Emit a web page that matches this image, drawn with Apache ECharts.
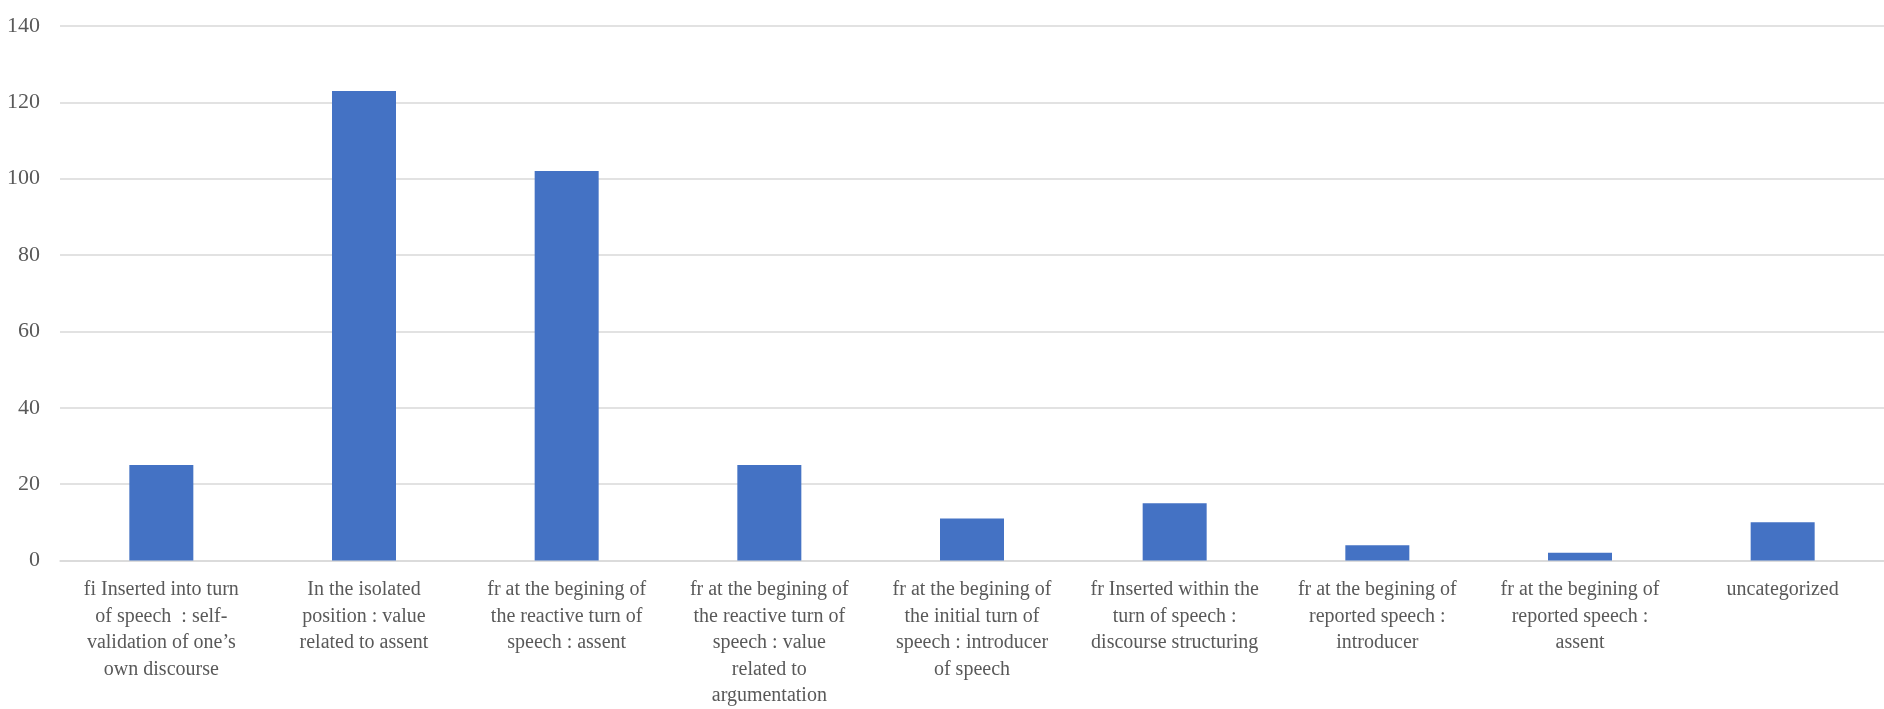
<!DOCTYPE html>
<html>
<head>
<meta charset="utf-8">
<script src="https://cdn.jsdelivr.net/npm/echarts@6/dist/echarts.min.js"></script>
<style>
  html, body { margin: 0; padding: 0; background: #ffffff; }
  #chart { width: 1884px; height: 709px; }
</style>
</head>
<body>
<div id="chart"></div>
<script>
// Discourse-marker positions and their counts
const categories = [
  'fi Inserted into turn\nof speech  : self-\nvalidation of one\u2019s\nown discourse',
  'In the isolated\nposition : value\nrelated to assent',
  'fr at the begining of\nthe reactive turn of\nspeech : assent',
  'fr at the begining of\nthe reactive turn of\nspeech : value\nrelated to\nargumentation',
  'fr at the begining of\nthe initial turn of\nspeech : introducer\nof speech',
  'fr Inserted within the\nturn of speech :\ndiscourse structuring',
  'fr at the begining of\nreported speech :\nintroducer',
  'fr at the begining of\nreported speech :\nassent',
  'uncategorized'
];
const counts = [25, 123, 102, 25, 11, 15, 4, 2, 10];

const yMin = 0;
const yMax = 140;
const yStep = 20;

const chart = echarts.init(document.getElementById('chart'), null, { renderer: 'canvas' });
chart.setOption({
  animation: false,
  backgroundColor: '#ffffff',
  grid: { left: 60, top: 26, width: 1827, height: 536, containLabel: false },
  xAxis: {
    type: 'category',
    data: categories,
    axisLine: { show: true, lineStyle: { color: '#d9d9d9', width: 1.5 } },
    axisTick: { show: false },
    axisLabel: {
      interval: 0,
      margin: 16,
      color: '#595959',
      fontFamily: '"Liberation Serif", "Times New Roman", serif',
      fontSize: 20,
      lineHeight: 26.5,
      align: 'center'
    }
  },
  yAxis: {
    type: 'value',
    min: yMin,
    max: yMax,
    interval: yStep,
    axisLine: { show: false },
    axisTick: { show: false },
    splitLine: { lineStyle: { color: '#d9d9d9', width: 1.5 } },
    axisLabel: {
      margin: 20,
      color: '#595959',
      fontFamily: '"Liberation Serif", "Times New Roman", serif',
      fontSize: 22
    }
  },
  series: [{
    type: 'bar',
    data: counts,
    barWidth: 64,
    itemStyle: { color: '#4472C4' }
  }]
});
</script>
</body>
</html>
